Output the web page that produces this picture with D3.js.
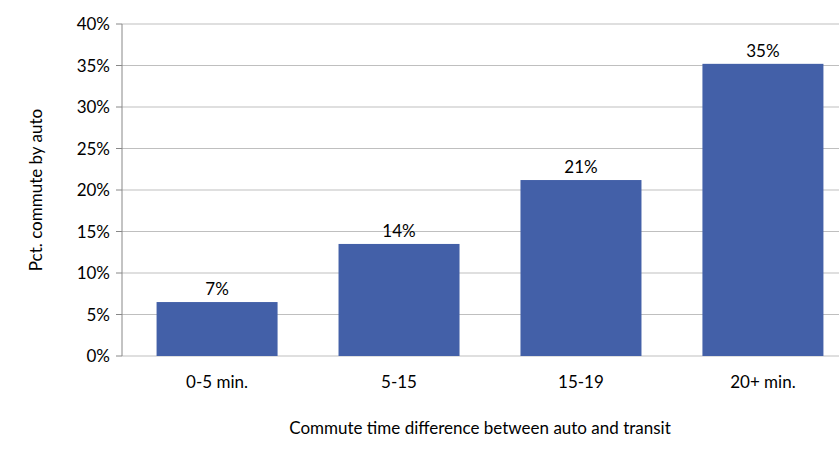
<!DOCTYPE html>
<html>
<head>
<script src="https://cdn.jsdelivr.net/npm/d3@7"></script>
<style>body{margin:0;background:#fff}text{font-family:Lato,"Open Sans",sans-serif;fill:#000}</style>
</head>
<body>
<svg width="839" height="462"></svg>
<script>
var categories = ["0-5 min.", "5-15", "15-19", "20+ min."];
var values = [6.5, 13.5, 21.2, 35.2];
var labels = ["7%", "14%", "21%", "35%"];
var ticks = [0, 5, 10, 15, 20, 25, 30, 35, 40];

var svg = d3.select("svg");
var pLeft = 122, pRight = 858, pTop = 24, pBottom = 356;

var x = d3.scaleBand().domain(categories).range([pLeft, pRight]).paddingInner(0.335).paddingOuter(0.19);
var y = d3.scaleLinear().domain([0, 40]).range([pBottom, pTop]);

svg.selectAll(".grid").data(ticks).enter().append("line")
  .attr("x1", pLeft).attr("x2", 839)
  .attr("y1", function(d) { return y(d); }).attr("y2", function(d) { return y(d); })
  .attr("stroke", "#bfbfbf").attr("stroke-width", 1);

svg.append("line").attr("x1", pLeft).attr("x2", pLeft).attr("y1", pTop).attr("y2", pBottom)
  .attr("stroke", "#888");
svg.selectAll(".tk").data(ticks).enter().append("line")
  .attr("x1", pLeft - 6).attr("x2", pLeft)
  .attr("y1", function(d) { return y(d); }).attr("y2", function(d) { return y(d); })
  .attr("stroke", "#888");
svg.selectAll(".yl").data(ticks).enter().append("text")
  .attr("x", pLeft - 12).attr("y", function(d) { return y(d) + 6; })
  .attr("text-anchor", "end").attr("font-size", 17)
  .text(function(d) { return d + "%"; });

svg.selectAll(".bar").data(values).enter().append("rect")
  .attr("x", function(d, i) { return x(categories[i]); })
  .attr("width", x.bandwidth())
  .attr("y", function(d) { return y(d); })
  .attr("height", function(d) { return pBottom - y(d); })
  .attr("fill", "#4360a8");

svg.selectAll(".vl").data(values).enter().append("text")
  .attr("x", function(d, i) { return x(categories[i]) + x.bandwidth() / 2; })
  .attr("y", function(d) { return y(d) - 7; })
  .attr("text-anchor", "middle").attr("font-size", 17)
  .text(function(d, i) { return labels[i]; });

svg.selectAll(".xl").data(categories).enter().append("text")
  .attr("x", function(d) { return x(d) + x.bandwidth() / 2; })
  .attr("y", 388).attr("text-anchor", "middle").attr("font-size", 17)
  .text(function(d) { return d; });

svg.append("text").attr("x", 480).attr("y", 434).attr("text-anchor", "middle")
  .attr("font-size", 17).text("Commute time difference between auto and transit");
svg.append("text").attr("transform", "translate(42,190) rotate(-90)")
  .attr("text-anchor", "middle").attr("font-size", 17).text("Pct. commute by auto");
</script>
</body>
</html>
